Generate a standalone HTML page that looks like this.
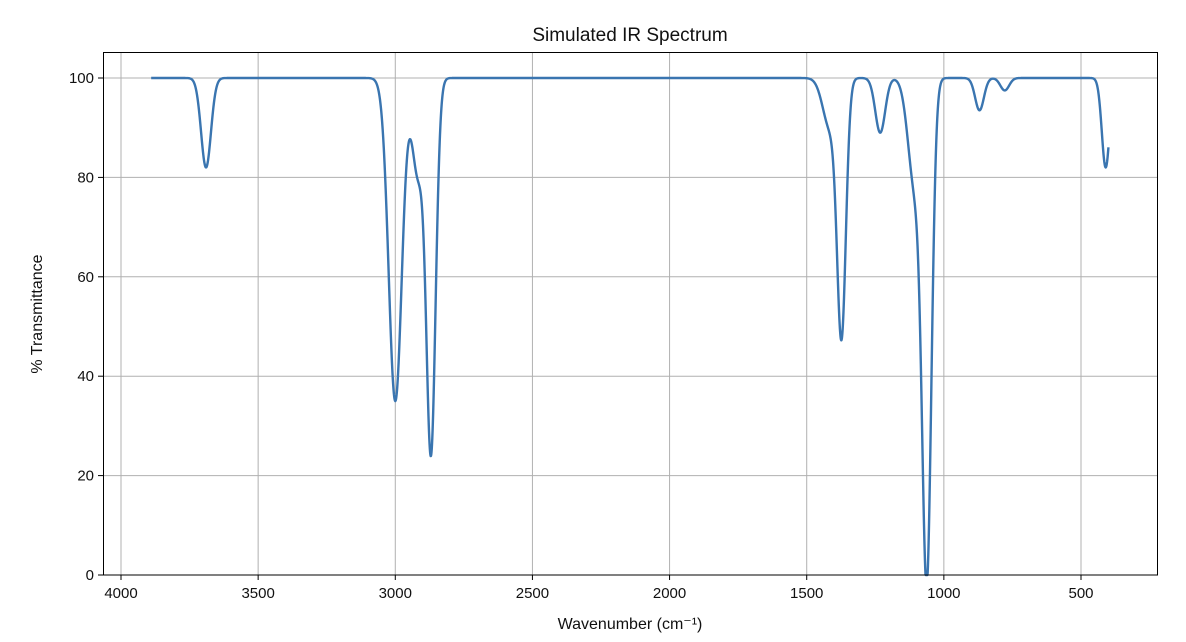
<!DOCTYPE html>
<html><head><meta charset="utf-8"><style>
body{margin:0;background:#fff;}
svg{display:block;font-family:"Liberation Sans","DejaVu Sans",sans-serif;}
</style></head><body>
<svg id="chart" width="1186" height="642">
<rect x="0" y="0" width="1186" height="642" fill="#fff"/>
<text x="630" y="41" font-size="19" text-anchor="middle" fill="#111">Simulated IR Spectrum</text>
<g id="grid"></g>
<g id="ticks"></g>
<path id="line" fill="none" stroke="#3a75b0" stroke-width="2.4" stroke-linejoin="round"/>
<rect x="103.5" y="52.5" width="1054" height="522.5" fill="none" stroke="#000" stroke-width="1"/>
<text x="630" y="629" font-size="16" text-anchor="middle" fill="#111">Wavenumber (cm⁻¹)</text>
<text transform="translate(42,314) rotate(-90)" font-size="16" text-anchor="middle" fill="#111">% Transmittance</text>
</svg>
<script>
const peakCenters=[3690,3000,2918,2870,1415,1373,1232,1105,1062,870,778,410];
const peakDepths=[18,65,19,75,10,50,11,22,97,6.5,2.5,18];
const peakWidths=[18,24,20,17,26,16,18,25,17,16,16,14];
const xTicks=[4000,3500,3000,2500,2000,1500,1000,500];
const yTicks=[0,20,40,60,80,100];
const xStart=3890,xEnd=400;
const X=v=>121+(4000-v)*(960/3500);
const Y=v=>575-v*(497/100);
const ns="http://www.w3.org/2000/svg";
const grid=document.getElementById('grid'),ticks=document.getElementById('ticks');
function mk(tag,attrs,parent){const e=document.createElementNS(ns,tag);for(const k in attrs)e.setAttribute(k,attrs[k]);parent.appendChild(e);return e;}
xTicks.forEach(t=>{const x=X(t);
 const g=mk('line',{x1:x,x2:x,y1:52,y2:575,stroke:'#b0b0b0','stroke-width':1},grid);
 
 
 mk('line',{x1:x,x2:x,y1:575,y2:580,stroke:'#000'},ticks);
 const l=mk('text',{x:x,y:598,'font-size':15,'text-anchor':'middle',fill:'#111'},ticks);l.textContent=t;
 
 
});
yTicks.forEach(t=>{const y=Y(t);
 const g=mk('line',{x1:103,x2:1158,y1:y,y2:y,stroke:'#b0b0b0','stroke-width':1},grid);
 
 
 mk('line',{x1:98,x2:103,y1:y,y2:y,stroke:'#000'},ticks);
 const l=mk('text',{x:94,y:y+5,'font-size':15,'text-anchor':'end',fill:'#111'},ticks);l.textContent=t;
 
 
});
let d='';
for(let w=xStart;w>=xEnd;w-=1){
 let T=100;
 for(let i=0;i<peakCenters.length;i++){T-=peakDepths[i]*Math.exp(-Math.pow(w-peakCenters[i],2)/(2*peakWidths[i]*peakWidths[i]));}
 if(T<0)T=0;
 d+=(d?'L':'M')+X(w).toFixed(2)+','+Y(T).toFixed(2);
}
document.getElementById('line').setAttribute('d',d);
</script>
</body></html>
